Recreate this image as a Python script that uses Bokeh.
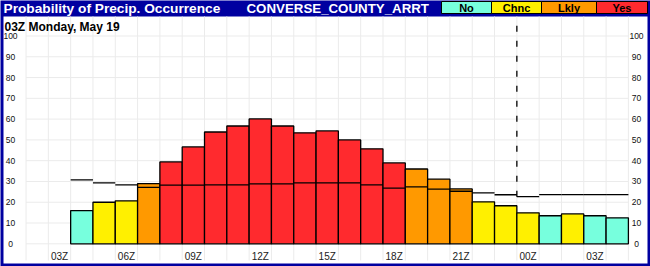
from bokeh.plotting import figure
from bokeh.models import Range1d
from bokeh.core.properties import value
from bokeh.embed import file_html
from bokeh.resources import INLINE

# ---------------- data ----------------
hours = ["04Z", "05Z", "06Z", "07Z", "08Z", "09Z", "10Z", "11Z", "12Z", "13Z",
         "14Z", "15Z", "16Z", "17Z", "18Z", "19Z", "20Z", "21Z", "22Z", "23Z",
         "00Z", "01Z", "02Z", "03Z", "04Z"]
pop = [16, 20, 20.7, 29, 39.4, 46.6, 53.8, 56.7, 60.1, 56.7,
       53.4, 54.3, 50, 45.7, 38.9, 36, 31.1, 26.4, 20.2, 18.3,
       14.9, 13.5, 14.4, 13.5, 12.5]
clim = [30.8, 29.3, 28.4, 27.2, 28.2, 28.2, 28.4, 28.4, 28.8, 28.8,
        29.3, 29.3, 29.3, 28.4, 26.8, 27.4, 26.3, 25.3, 24.5, 23.6,
        22.7, 23.7, 23.7, 23.7, 23.7]
category = ["No", "Chnc", "Chnc", "Lkly", "Yes", "Yes", "Yes", "Yes", "Yes", "Yes",
            "Yes", "Yes", "Yes", "Yes", "Yes", "Lkly", "Lkly", "Lkly", "Chnc", "Chnc",
            "Chnc", "No", "Chnc", "No", "No"]
tick_labels = ["03Z", "06Z", "09Z", "12Z", "15Z", "18Z", "21Z", "00Z", "03Z"]
y_ticks = [0, 10, 20, 30, 40, 50, 60, 70, 80, 90, 100]
legend_names = ["No", "Chnc", "Lkly", "Yes"]
colors = {"No": "#77FFDD", "Chnc": "#FFF000", "Lkly": "#FF9900", "Yes": "#FF2A2E"}
title_left = "Probability of Precip. Occurrence"
title_right = "CONVERSE_COUNTY_ARRT"
subtitle = "03Z Monday, May 19"
day_break_index = 20  # boundary before 00Z bar

# ---------------- layout helpers (pixel -> data) ----------------
W, H = 650, 266
X0, DX = 59.0, 22.31      # pixel of x=0 (03Z) and pixels per hour
Y0, DY = 243.3, 2.078     # pixel of y=0 and pixels per percent


def X(px):
    return (px - X0) / DX


def Y(py):
    return (Y0 - py) / DY


NAVY = "#0000A0"
FONT = value("Liberation Sans")

p = figure(width=W, height=H, output_backend="svg", toolbar_location=None,
           x_range=Range1d(X(0), X(W)), y_range=Range1d(Y(H), Y(0)),
           min_border=0, min_border_left=0, min_border_right=0,
           min_border_top=0, min_border_bottom=0)
p.axis.visible = False
p.grid.visible = False
p.outline_line_color = None
p.background_fill_color = NAVY
p.border_fill_color = NAVY

# white panel
p.quad(left=[X(3)], right=[X(647)], bottom=[Y(263)], top=[Y(16)],
       fill_color="white", line_color=None)

# grid
n = len(hours)
xs = list(range(1, n + 1))
vgx = [i - 0.5 for i in range(-1, n + 2)]
p.segment(x0=vgx, x1=vgx, y0=[Y(260)] * len(vgx), y1=[Y(16)] * len(vgx),
          line_color="#EBEBEB", line_width=1)
p.segment(x0=[vgx[0]] * len(y_ticks), x1=[vgx[-1]] * len(y_ticks),
          y0=y_ticks, y1=y_ticks, line_color="#EBEBEB", line_width=1)

# bars
p.quad(left=[x - 0.5 for x in xs], right=[x + 0.5 for x in xs],
       bottom=[0] * n, top=pop, fill_color=[colors[c] for c in category],
       line_color="black", line_width=1.3)

# climatology step segments
p.segment(x0=[x - 0.5 for x in xs], x1=[x + 0.5 for x in xs], y0=clim, y1=clim,
          line_color="black", line_width=1.3)

# day-break dashed line
xd = xs[day_break_index] - 0.5
p.segment(x0=[xd], x1=[xd], y0=[clim[day_break_index]], y1=[Y(24)],
          line_color="black", line_width=1.3, line_dash="6 9")

# y labels (both sides)
for px in (10, 636):
    p.text(x=[X(px)] * len(y_ticks), y=y_ticks, text=[str(v) for v in y_ticks],
           text_font=FONT, text_font_size="8.5px", text_color="#111111",
           text_align="center", text_baseline="middle")

# x labels
p.text(x=[3 * i for i in range(len(tick_labels))], y=[Y(256)] * len(tick_labels),
       text=tick_labels, text_font=FONT, text_font_size="10px", text_color="#222222",
       text_align="center", text_baseline="middle")

# titles
p.text(x=[X(3)], y=[Y(0)], text=[title_left], text_font=FONT,
       text_font_style="bold", text_font_size="13.7px", text_color="white",
       text_align="left", text_baseline="top")
p.text(x=[X(246)], y=[Y(0)], text=[title_right], text_font=FONT,
       text_font_style="bold", text_font_size="13.3px", text_color="white",
       text_align="left", text_baseline="top")
p.text(x=[X(4)], y=[Y(26)], text=[subtitle], text_font=FONT,
       text_font_style="bold", text_font_size="12px", text_color="black",
       text_align="left", text_baseline="alphabetic")

# legend boxes
edges = [441, 491, 541, 596, 647]
p.quad(left=[X(e) for e in edges[:-1]], right=[X(e) for e in edges[1:]],
       bottom=[Y(13)] * 4, top=[Y(1)] * 4,
       fill_color=[colors[c] for c in legend_names], line_color="black", line_width=1)
p.text(x=[X((edges[i] + edges[i + 1]) / 2) for i in range(4)], y=[Y(7.5)] * 4,
       text=legend_names, text_font=FONT, text_font_style="bold",
       text_font_size="11px", text_color="black",
       text_align="center", text_baseline="middle")

open("out.html", "w").write(file_html(p, INLINE))
